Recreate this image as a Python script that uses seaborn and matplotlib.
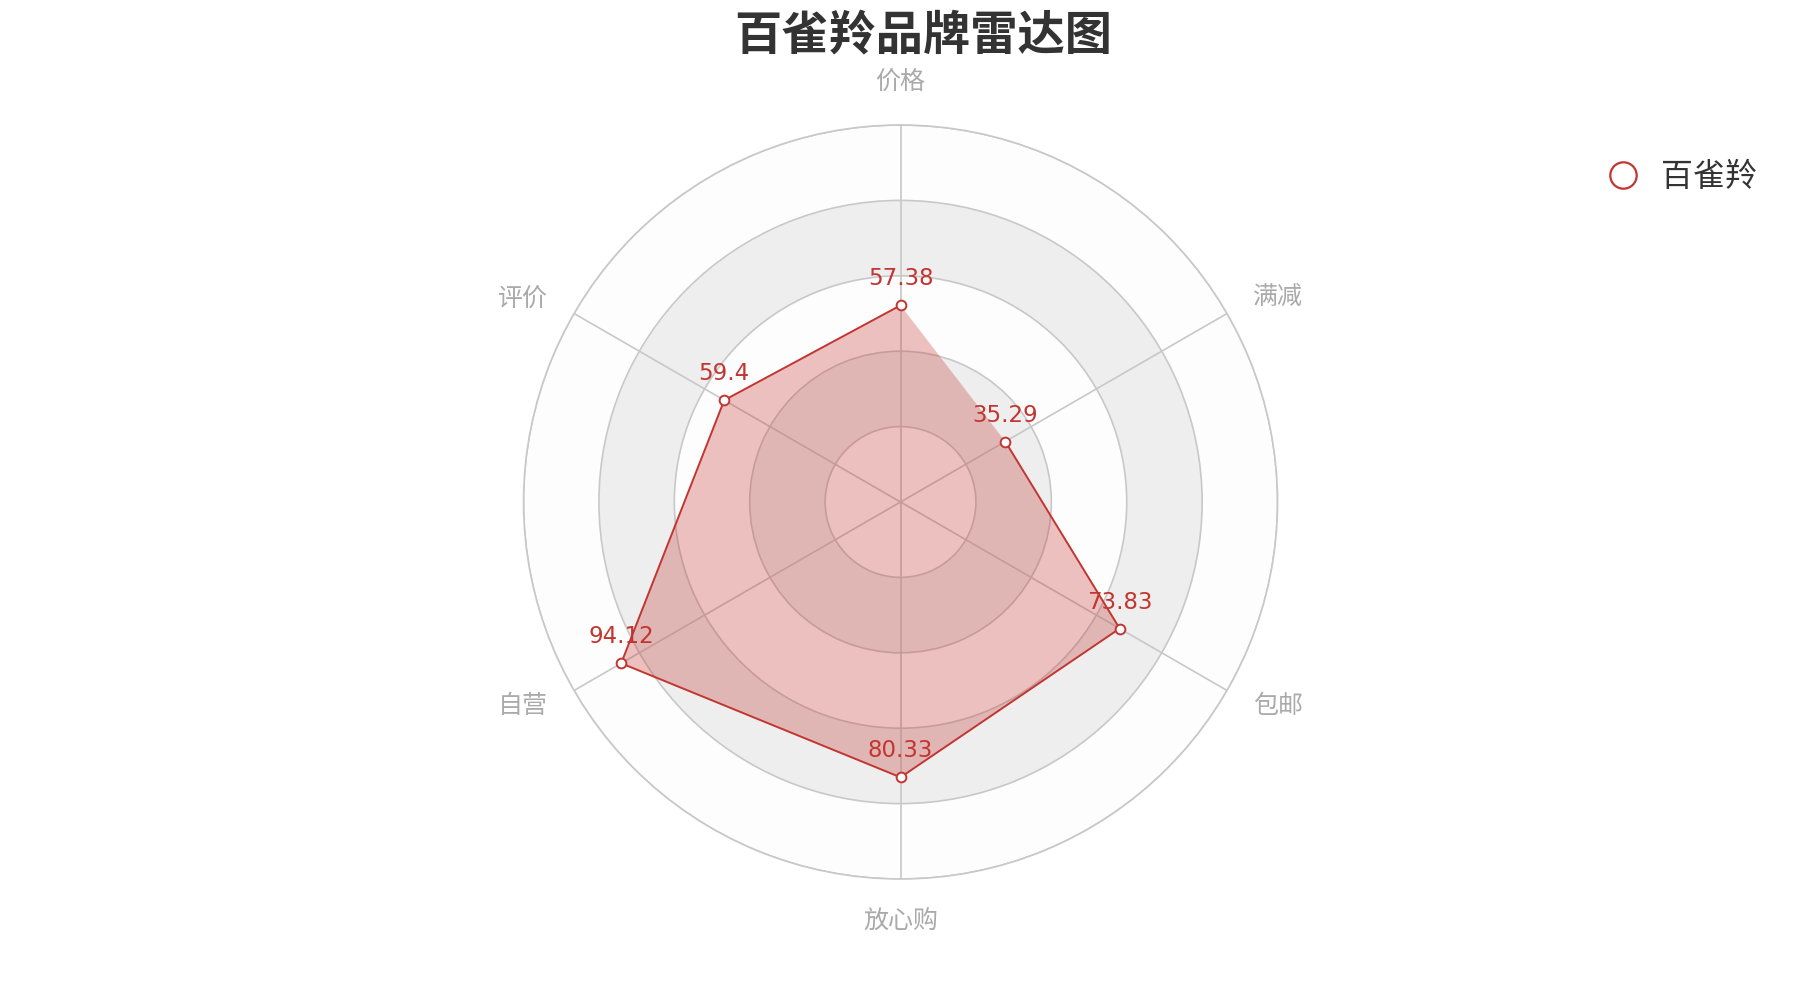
import numpy as np
import pandas as pd
import seaborn as sns
import matplotlib.pyplot as plt
from matplotlib.lines import Line2D

sns.set_theme(style='white')
plt.rcParams['font.family'] = ['Noto Sans CJK SC', 'DejaVu Sans']

# radar data (axes go counter-clockwise starting at the top)
indicators = ['价格', '评价', '自营', '放心购', '包邮', '满减']
scores = [57.38, 59.4, 94.12, 80.33, 73.83, 35.29]
brand = '百雀羚'
r_max = 110
n_rings = 5

red = '#c23531'

angles = np.linspace(0, 2 * np.pi, len(indicators), endpoint=False)
df = pd.DataFrame({'angle': np.append(angles, angles[0]),
                   'score': scores + scores[:1]})

fig = plt.figure(figsize=(18, 10), dpi=100)
ax = fig.add_axes([0.2908, 0.121, 0.419, 0.754], projection='polar')
ax.set_theta_offset(np.pi / 2)
ax.set_ylim(0, r_max)

# split areas: alternating light / grey rings
ring_edges = np.linspace(0, r_max, n_rings + 1)
theta = np.linspace(0, 2 * np.pi, 361)
for i in range(n_rings):
    col = '#fdfdfd' if i % 2 == 0 else '#eeeeee'
    ax.fill_between(theta, ring_edges[i], ring_edges[i + 1], color=col, lw=0, zorder=0)

ax.set_yticks(ring_edges[1:])
ax.set_yticklabels([])
ax.set_xticks(angles)
ax.set_xticklabels([])
ax.grid(True, color='#c8c8c8', lw=1.2)
ax.spines['polar'].set_color('#c8c8c8')
ax.spines['polar'].set_linewidth(1.2)

# filled polygon + line with markers
ax.fill(df['angle'], df['score'], color=red, alpha=0.3, lw=0, zorder=2)
sns.lineplot(data=df, x='angle', y='score', sort=False, ax=ax, color=red, lw=1.4,
             marker='o', markersize=7, markerfacecolor='white', markeredgecolor=red,
             markeredgewidth=1.4, zorder=3, legend=False)
ax.set_xlabel('')
ax.set_ylabel('')

for a, v in zip(angles, scores):
    ax.annotate(f'{v:g}', (a, v), xytext=(0, 19), textcoords='offset points',
                ha='center', va='center', color=red, fontsize=16.5,
                family='DejaVu Sans', zorder=4)

# indicator names just outside the outer ring, aligned away from the centre
for a, name in zip(angles, indicators):
    s = -np.sin(a)
    c = np.cos(a)
    ha = 'center' if abs(s) < 0.1 else ('left' if s > 0 else 'right')
    va = 'center' if abs(c) < 0.9 else ('bottom' if c > 0 else 'top')
    ax.text(a, r_max * 1.08, name, ha=ha, va=va, color='#aaaaaa',
            fontsize=18, clip_on=False)

fig.suptitle('百雀羚品牌雷达图', x=0.513, y=0.965, va='center', fontsize=34,
             fontweight='bold', color='#333333')

handle = Line2D([], [], ls='none', marker='o', markersize=19, markerfacecolor='white',
                markeredgecolor=red, markeredgewidth=1.6)
fig.legend([handle], [brand], loc='center left', bbox_to_anchor=(0.868, 0.823),
           frameon=False, fontsize=23, handletextpad=0.2, labelcolor='#333333')

fig.savefig('out.png', dpi=100, facecolor='white')
